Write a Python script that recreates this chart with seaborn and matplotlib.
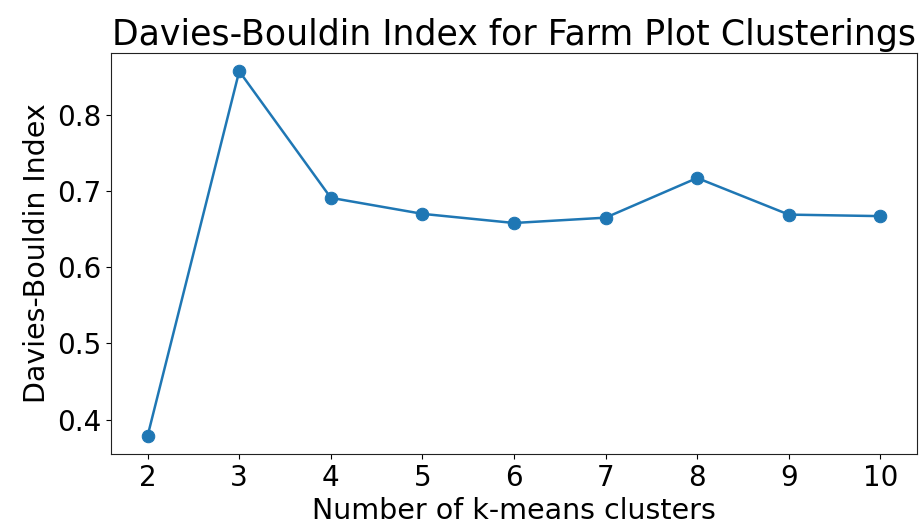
import matplotlib
matplotlib.use('Agg')
import matplotlib.pyplot as plt
import seaborn as sns
import pandas as pd

# k-means cluster counts and Davies-Bouldin scores
n_clusters = [2, 3, 4, 5, 6, 7, 8, 9, 10]
db_index = [0.379, 0.857, 0.691, 0.670, 0.658, 0.665, 0.717, 0.669, 0.667]

sns.set_style('ticks')
plt.rcParams['font.family'] = ['DejaVu Sans']
plt.rcParams['text.color'] = 'black'
plt.rcParams['axes.labelcolor'] = 'black'
plt.rcParams['xtick.color'] = 'black'
plt.rcParams['ytick.color'] = 'black'

df = pd.DataFrame({'k': n_clusters, 'db': db_index})

fig = plt.figure(figsize=(9.19, 5.31), dpi=100)
ax = fig.add_axes([111 / 919, 1 - 454 / 531, (917 - 111) / 919, (454 - 53) / 531])
sns.lineplot(data=df, x='k', y='db', marker='o', markersize=9, linewidth=1.8,
             color='#1f77b4', markeredgecolor='#1f77b4', ax=ax)
ax.set_title('Davies-Bouldin Index for Farm Plot Clusterings', fontsize=25)
ax.set_xlabel('Number of k-means clusters', fontsize=20.5)
ax.set_ylabel('Davies-Bouldin Index', fontsize=20.5)
ax.set_xticks(n_clusters)
ax.set_yticks([0.4, 0.5, 0.6, 0.7, 0.8])
ax.tick_params(labelsize=20)
for s in ax.spines.values():
    s.set_color('#222222')

fig.savefig('out.png', dpi=100)
